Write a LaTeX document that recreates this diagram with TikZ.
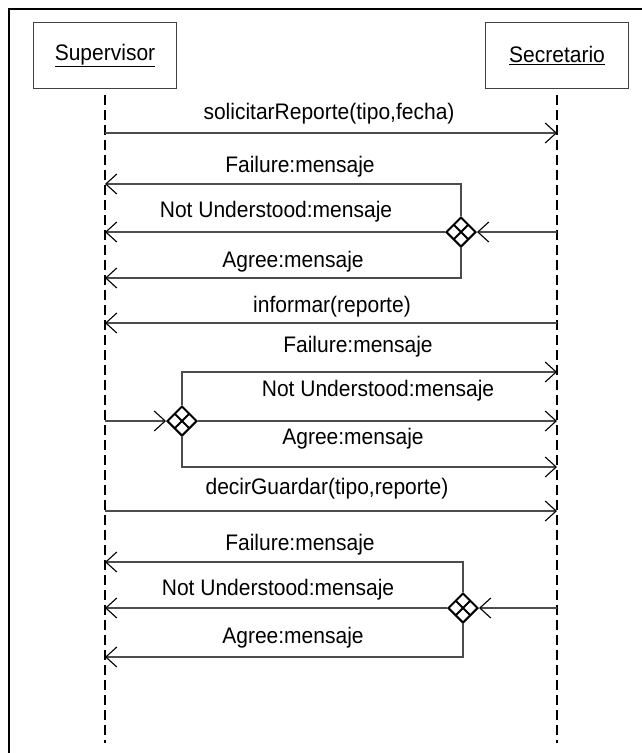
\documentclass[tikz,border=0pt]{standalone}
\usepackage{fontspec}
\usepackage{graphicx}
\setmainfont{Liberation Sans}
\usetikzlibrary{arrows.meta,shapes.geometric,calc}
% slightly tall lettering
\newcommand{\tall}[1]{\scalebox{1}[1.07]{#1}}
\begin{document}
\begin{tikzpicture}[x=1pt,y=-1pt,
  font=\fontsize{21}{25}\selectfont,
  actor/.style={draw=black!75,line width=1.2pt,minimum width=143pt,minimum height=66pt,inner sep=0pt},
  lifeline/.style={line width=2pt,dash pattern=on 10pt off 5pt},
  msg/.style={draw=black!70,line width=1.3pt,-{Straight Barb[length=11pt,width=20pt,line width=1.1pt,black]}},
  lbl/.style={inner sep=0pt,anchor=center},
  branch/.style={shape=diamond,draw=black,line width=2pt,minimum width=30pt,minimum height=30pt,inner sep=0pt,fill=white,
    path picture={
      \draw[line width=2pt]
        ($(path picture bounding box.north)!.5!(path picture bounding box.west)$) --
        ($(path picture bounding box.south)!.5!(path picture bounding box.east)$)
        ($(path picture bounding box.north)!.5!(path picture bounding box.east)$) --
        ($(path picture bounding box.south)!.5!(path picture bounding box.west)$);
    }}
]
\useasboundingbox (0,0) rectangle (642,753);
% frame
\draw[line width=2pt] (8.5,760) -- (8.5,8.5) -- (650,8.5);

% participants
\node[actor] (sup) at (105,55.5) {\tall{\underline{Supervisor}}};
\node[actor] (sec) at (557,55.5) {\tall{\underline{Secretario}}};
\coordinate (supEnd) at (105,743);
\coordinate (secEnd) at (557,743);
\draw[lifeline] ($(sup.south)+(0,6)$) -- (supEnd);
\draw[lifeline] ($(sec.south)+(0,6)$) -- (secEnd);

% points on the lifelines
\foreach \n/\y in {1/133,2/184,3/232,4/278,5/323,6/421,8/511,9/562,10/608,11/657}
  \coordinate (L\n) at (105,\y);
\foreach \n/\y in {1/133,3/232,5/323,6/421,7/372,12/467,8/511,10/608}
  \coordinate (R\n) at (557,\y);

% solicitarReporte
\draw[msg] (L1) -- (R1);
\node[lbl] (t1) at (329,114) {\tall{solicitarReporte(tipo,fecha)}};

% first reply branch
\node[branch] (d1) at (461,232) {};
\draw[msg] (R3) -- (d1.east);
\draw[msg] (d1.north) |- (L2);
\draw[msg] (d1.west) -- (L3);
\draw[msg] (d1.south) |- (L4);
\node[lbl] (t2) at (300,167) {\tall{Failure:mensaje}};
\node[lbl] (t3) at (276,212) {\tall{Not Understood:mensaje}};
\node[lbl] (t4) at (293,262) {\tall{Agree:mensaje}};

% informar
\draw[msg] (R5) -- (L5);
\node[lbl] (t5) at (332,307) {\tall{informar(reporte)}};

% second branch
\node[branch] (d2) at (182,421) {};
\draw[msg] (L6) -- (d2.west);
\draw[msg] (d2.north) |- (R7);
\draw[msg] (d2.east) -- (R6);
\draw[msg] (d2.south) |- (R12);
\node[lbl] (t6) at (358,347) {\tall{Failure:mensaje}};
\node[lbl] (t7) at (378,391) {\tall{Not Understood:mensaje}};
\node[lbl] (t8) at (353,439) {\tall{Agree:mensaje}};

% decirGuardar
\draw[msg] (L8) -- (R8);
\node[lbl] (t9) at (327,489) {\tall{decirGuardar(tipo,reporte)}};

% third reply branch
\node[branch] (d3) at (463,608) {};
\draw[msg] (R10) -- (d3.east);
\draw[msg] (d3.north) |- (L9);
\draw[msg] (d3.west) -- (L10);
\draw[msg] (d3.south) |- (L11);
\node[lbl] (t10) at (300,545) {\tall{Failure:mensaje}};
\node[lbl] (t11) at (278,590) {\tall{Not Understood:mensaje}};
\node[lbl] (t12) at (293,638) {\tall{Agree:mensaje}};
\end{tikzpicture}
\end{document}
